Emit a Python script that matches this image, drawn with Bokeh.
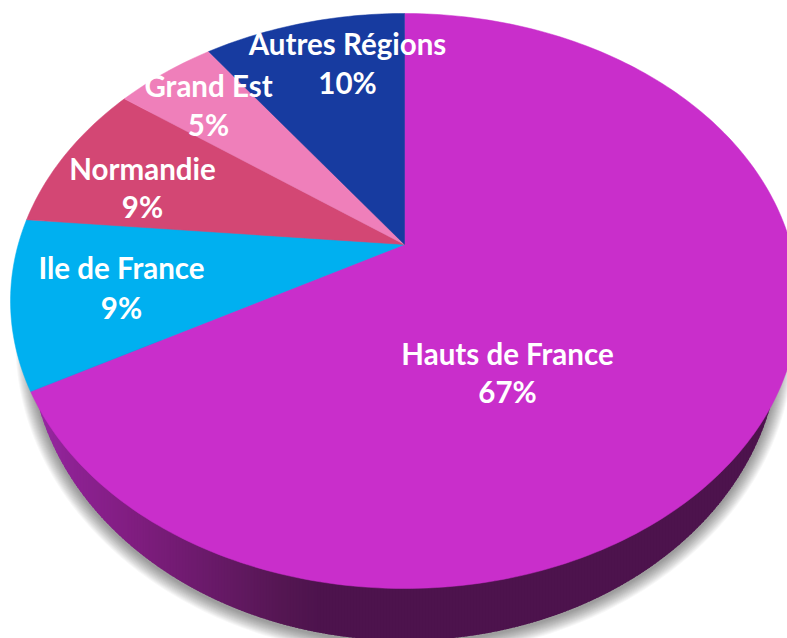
import numpy as np
from bokeh.plotting import figure
from bokeh.models import Range1d
from bokeh.core.properties import value
from bokeh.embed import file_html
from bokeh.resources import INLINE

# ---- data
regions = ["Hauts de France", "Ile de France", "Normandie", "Grand Est", "Autres Régions"]
shares = [67.0, 9.45, 8.55, 5.0, 10.0]

# ---- styling and layout
slice_colors = ["#c92ecb", "#00b0f0", "#d34774", "#ef7fba", "#173ba0"]
name_x = [507, 121, 142, 208, 347]
name_y = [353, 267, 168, 85, 43]
pct_y = [391, 307, 206, 124, 82]
APEX_X, APEX_Y = 404.0, 244.0
PERSP, KY, KX = 0.1965, 276.4, 386.3
WALL_CY, WALL_RX, WALL_RY = 340.0, 375.0, 300.0


def project(theta):
    w = 1 + PERSP * np.cos(theta)
    return APEX_X + KX * np.sin(theta) / w, APEX_Y - KY * np.cos(theta) / w


def wall_color(x):
    stops_x = [30, 67, 133, 200, 283, 320]
    r = np.interp(x, stops_x, [0x9a, 0x8e, 0x80, 0x6c, 0x54, 0x4d])
    g = np.interp(x, stops_x, [0x2a, 0x22, 0x1d, 0x1a, 0x16, 0x13])
    b = np.interp(x, stops_x, [0xa6, 0x94, 0x80, 0x6c, 0x52, 0x4d])
    return "#%02x%02x%02x" % (round(r), round(g), round(b))


p = figure(width=787, height=638, output_backend="svg", toolbar_location=None,
           x_range=Range1d(0, 787), y_range=Range1d(638, 0),
           min_border=0, outline_line_color=None, background_fill_color="white",
           border_fill_color="white")
p.axis.visible = False
p.grid.visible = False

# soft shadow below the disc
t = np.linspace(0, 2 * np.pi, 361)
for e in np.arange(1, 15):
    p.patch(APEX_X + (WALL_RX + e) * np.cos(t), WALL_CY + 2 + (WALL_RY + e) * np.sin(t),
            fill_color="#000000", fill_alpha=0.03, line_color=None)

# side wall, as thin vertical strips carrying the horizontal gradient
xs, ys, cols = [], [], []
edges = np.arange(APEX_X - WALL_RX, APEX_X + WALL_RX + 0.01, 1.5)
for a, b in zip(edges[:-1], edges[1:]):
    b2 = min(b + 0.8, APEX_X + WALL_RX)
    seg = np.linspace(a, b2, 3)
    low = WALL_CY + WALL_RY * np.sqrt(np.clip(1 - ((seg - APEX_X) / WALL_RX) ** 2, 0, 1))
    xs.append(list(seg) + [b2, a])
    ys.append(list(low) + [WALL_CY, WALL_CY])
    cols.append(wall_color((a + b) / 2))
p.patches(xs, ys, fill_color=cols, line_color=None)

# top face: one wedge per share, clockwise from 12 o'clock
edges_share = np.concatenate([[0], np.cumsum(shares)]) / np.sum(shares) * 2 * np.pi
wx, wy = [], []
for a, b in zip(edges_share[:-1], edges_share[1:]):
    th = np.linspace(a, b, max(int((b - a) * 180 / np.pi), 2) + 1)
    x, y = project(th)
    wx.append([APEX_X] + list(x))
    wy.append([APEX_Y] + list(y))
p.patches(wx, wy, fill_color=slice_colors, line_color=slice_colors, line_width=0.5)

# labels
pct_labels = ["%d%%" % round(s) for s in shares]
common = dict(text_font=value("Lato"), text_font_style="bold", text_font_size="29.5px",
              text_color="white", text_align="center", text_baseline="middle")
p.text(name_x, name_y, text=regions, **common)
p.text(name_x, pct_y, text=pct_labels, **common)

open("out.html", "w").write(file_html(p, INLINE))
